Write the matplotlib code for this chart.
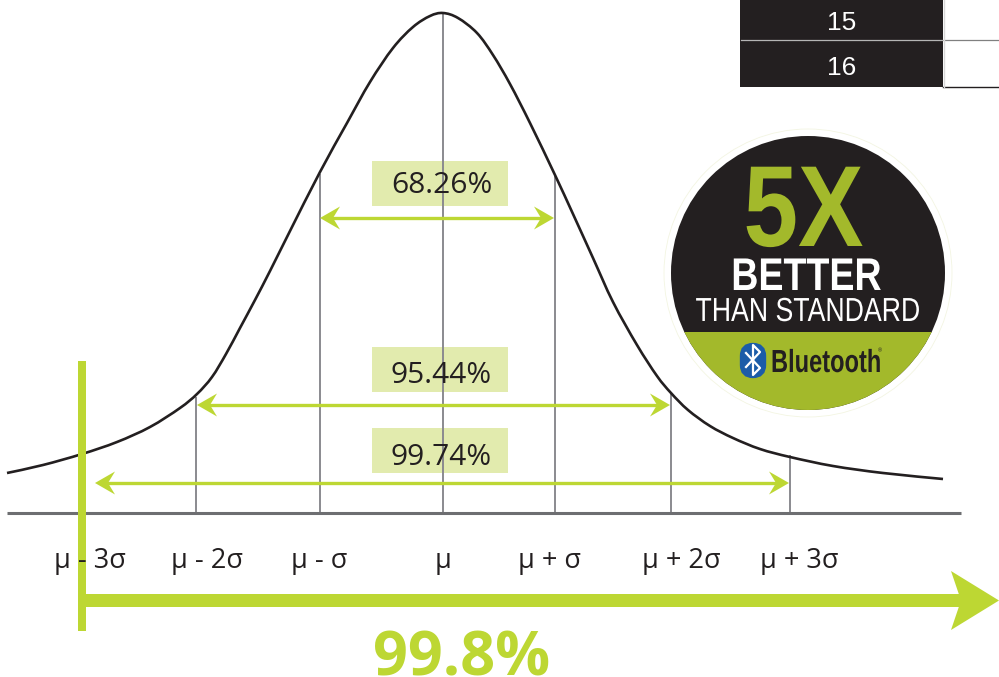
import matplotlib
matplotlib.use('Agg')
import matplotlib.pyplot as plt
from matplotlib.patches import Circle, Polygon, Rectangle, PathPatch, FancyBboxPatch
from matplotlib.patheffects import AbstractPathEffect
from matplotlib.path import Path
from matplotlib.transforms import Affine2D

# 曲线读数（像素坐标）
curve_x = [7, 43, 82, 117, 150, 180, 197, 212, 226, 240, 255, 270, 290, 320, 347, 370, 393, 413, 430, 443,
           458, 477, 493, 510, 530, 555, 573, 593, 613, 637, 657, 671, 688, 710, 733, 760, 790, 833, 883, 943]
curve_y = [473, 465, 454, 442, 427, 408, 394, 377, 354, 328, 300, 271, 231, 172, 123, 82, 48, 27, 16, 13,
           18, 33, 55, 84, 123, 175, 214, 258, 302, 345, 376, 393, 410, 426, 438, 449, 457, 466, 473, 479]

# 刻度
tick_x = [196, 320, 443, 555, 671, 790]
tick_top = [397, 174, 13, 176, 394, 455]
label_x = [90, 207, 319, 443, 550, 681, 799]
labels = ['μ - 3σ', 'μ - 2σ', 'μ - σ', 'μ', 'μ + σ', 'μ + 2σ', 'μ + 3σ']

# 区间
range_labels = ['68.26%', '95.44%', '99.74%']
range_left = [320, 197, 95]
range_right = [554, 670, 789]
range_y = [218, 405, 483]
box_top = [161, 347, 428]
label_base = [193, 383, 465]

# 表格
table_rows = ['15', '16']
table_y = [23, 68]

GREEN = '#bdd733'
BADGE_GREEN = '#a3b92b'
DARK = '#231f20'
GRAY = '#8a8a8f'
BOX = '#e2ebae'

plt.rcParams['font.family'] = ['Open Sans', 'DejaVu Sans']

fig = plt.figure(figsize=(9.99, 6.77), dpi=100)
ax = fig.add_axes([0, 0, 1, 1])
ax.set_xlim(0, 999)
ax.set_ylim(677, 0)
ax.axis('off')


class Squeeze(AbstractPathEffect):
    # 徽章字体是窄体，没有装，只能横向压缩
    def __init__(self, cx, sx):
        super().__init__()
        self.cx = cx
        self.sx = sx

    def draw_path(self, renderer, gc, tpath, affine, rgbFace=None):
        squeeze = Affine2D().translate(-self.cx, 0).scale(self.sx, 1).translate(self.cx, 0)
        renderer.draw_path(gc, tpath, affine + squeeze, rgbFace)


def smooth_path(xs, ys):
    # Catmull-Rom 转贝塞尔
    pts = list(zip(xs, ys))
    verts = [pts[0]]
    codes = [Path.MOVETO]
    for i in range(len(pts) - 1):
        p0 = pts[max(i - 1, 0)]
        p1 = pts[i]
        p2 = pts[i + 1]
        p3 = pts[min(i + 2, len(pts) - 1)]
        verts.append((p1[0] + (p2[0] - p0[0]) / 6, p1[1] + (p2[1] - p0[1]) / 6))
        verts.append((p2[0] - (p3[0] - p1[0]) / 6, p2[1] - (p3[1] - p1[1]) / 6))
        verts.append(p2)
        codes += [Path.CURVE4] * 3
    return Path(verts, codes)


def arrow_head(tip, y, direction, length, half, notch, color, z=5):
    ax.add_patch(Polygon([(tip, y),
                          (tip - direction * length, y - half),
                          (tip - direction * notch, y),
                          (tip - direction * length, y + half)],
                         closed=True, fc=color, ec='none', zorder=z))


def badge_text(x, y, s, size, sx, color, weight='normal', ha='center'):
    ax.text(x, y, s, ha=ha, va='baseline', fontsize=size, fontweight=weight, color=color,
            family='Liberation Sans', zorder=9, path_effects=[Squeeze(x, sx)])


# 标签底色
for top in box_top:
    ax.add_patch(Rectangle((372, top), 136, 45, fc=BOX, ec='none', zorder=1))

# 竖线
for x, top in zip(tick_x, tick_top):
    ax.plot([x, x], [top, 513], color=GRAY, lw=1.4, zorder=2, solid_capstyle='butt')

# 基线
ax.plot([7, 961], [513, 513], color='#6d6e71', lw=2.2, zorder=3, solid_capstyle='butt')

# 曲线
ax.add_patch(PathPatch(smooth_path(curve_x, curve_y), fc='none', ec=DARK, lw=1.9, zorder=3))

# 绿色粗轴
ax.add_patch(Rectangle((78, 361), 8, 270, fc=GREEN, ec='none', zorder=4))
ax.add_patch(Rectangle((86, 594), 875, 13, fc=GREEN, ec='none', zorder=4))
arrow_head(999, 600.5, 1, 48, 29.5, 38, GREEN)

# 区间箭头
for lab, l, r, y, base in zip(range_labels, range_left, range_right, range_y, label_base):
    ax.plot([l + 8, r - 8], [y, y], color=GREEN, lw=2.4, zorder=5, solid_capstyle='butt')
    arrow_head(l, y, -1, 20, 11.5, 13, GREEN)
    arrow_head(r, y, 1, 20, 11.5, 13, GREEN)
    ax.text(441.5, base, lab, ha='center', va='baseline', fontsize=21.5, color=DARK, zorder=6)

# 刻度文字
for x, lab in zip(label_x, labels):
    ax.text(x, 568, lab, ha='center', va='baseline', fontsize=19.5, color=DARK, zorder=6)

ax.text(462, 675, '99.8%', ha='center', va='baseline', fontsize=44, fontweight='bold',
        color=GREEN, zorder=6)

# 右上角表格
ax.add_patch(Rectangle((740, 0), 203, 87, fc=DARK, ec='none', zorder=2))
ax.plot([741, 943], [40, 40], color='#b5b5b5', lw=0.9, zorder=3)
ax.plot([945, 999], [40, 40], color='#808080', lw=0.9, zorder=3)
ax.plot([943, 999], [87, 87], color=DARK, lw=1.0, zorder=3)
ax.plot([944, 944], [0, 87], color='#d8d8d8', lw=1.0, zorder=3)
for lab, y in zip(table_rows, table_y):
    ax.text(842, y, lab, ha='center', va='center', fontsize=19, color='white',
            family='Liberation Sans', zorder=4)

# 徽章
cx, cy, rad = 808, 273, 137
ax.add_patch(Circle((cx, cy), rad + 7, fc='white', ec='#f3f5e2', lw=0.6, zorder=6))
ax.add_patch(Circle((cx, cy), rad, fc=DARK, ec='none', zorder=7))
low = Rectangle((cx - rad, 332), 2 * rad, 90, fc=BADGE_GREEN, ec='none', zorder=8)
ax.add_patch(low)
low.set_clip_path(Circle((cx, cy), rad, transform=ax.transData))

badge_text(803.5, 246, '5X', 83, 0.85, BADGE_GREEN, 'bold')
badge_text(806.5, 290, 'BETTER', 33, 0.82, 'white', 'bold')
badge_text(808, 321, 'THAN STANDARD', 24, 0.80, 'white')
badge_text(771, 372, 'Bluetooth', 23, 0.74, DARK, 'bold', ha='left')
ax.text(880, 351, '®', ha='center', va='center', fontsize=4, color=DARK,
        family='Liberation Sans', zorder=9)

# 蓝牙标志
ax.add_patch(FancyBboxPatch((744, 347), 18, 27, boxstyle='round,pad=0,rounding_size=9',
                            fc='#1b5ca8', ec='#1b5ca8', lw=6, zorder=9))
rune_x = [746, 760, 753, 753, 760, 746]
rune_y = [353, 368, 375, 345, 352, 367]
ax.plot(rune_x, rune_y, color='white', lw=1.6, zorder=10)

fig.savefig('out.png', dpi=100)
